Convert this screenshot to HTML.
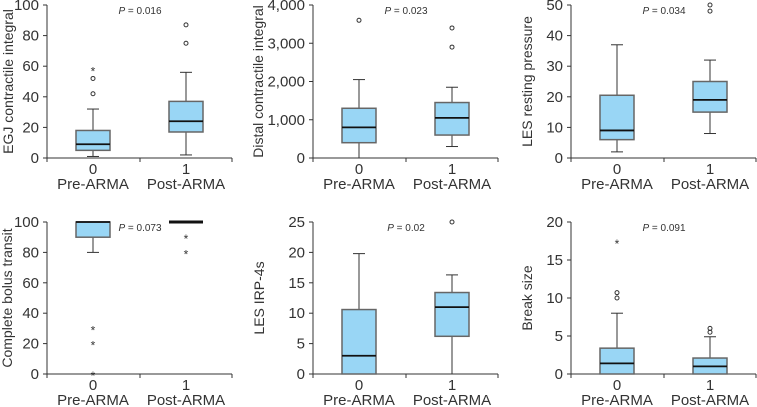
<!DOCTYPE html>
<html><head><meta charset="utf-8"><style>
body{margin:0;background:#fff;}
svg{display:block;font-family:"Liberation Sans",sans-serif;}
</style></head><body>
<svg id="c" width="757" height="407"></svg>
<script>
const panelTitles=["EGJ contractile integral","Distal contractile integral","LES resting pressure","Complete bolus transit","LES IRP-4s","Break size"];
const pValues=["0.016","0.023","0.034","0.073","0.02","0.091"];
const yMax=[100,4000,50,100,25,20];
const yStep=[20,1000,10,20,5,5];
const categories=["Pre-ARMA","Post-ARMA"];
const catCodes=["0","1"];
// [whiskerLow, q1, median, q3, whiskerHigh]
const preStats=[[1,5,9,18,32],[0,400,800,1300,2050],[2,6,9,20.5,37],[80,90,100,100,100],[0,0,3,10.6,19.8],[0,0,1.4,3.4,8]];
const postStats=[[2,17,24,37,56],[300,600,1050,1450,1850],[8,15,19,25,32],[100,100,100,100,100],[0,6.2,11,13.4,16.3],[0,0,1,2.1,4.9]];
const preCircles=[[42,52],[3600],[],[],[],[10,10.7]];
const preStars=[[58],[],[],[30,20,0],[],[17.4]];
const postCircles=[[75,87],[2900,3400],[48,50],[],[25],[5.5,6]];
const postStars=[[],[],[],[90,80],[],[]];

const NS="http://www.w3.org/2000/svg";
const svg=document.getElementById('c');
function mk(tag,attrs,parent){const e=document.createElementNS(NS,tag);for(const k in attrs)e.setAttribute(k,attrs[k]);(parent||svg).appendChild(e);return e;}
const axX=[47,313,571];
const rowTop=[5,222], rowBot=[158,374];
const titleOff=[34,50,39,35,49,39];
for(let p=0;p<6;p++){
  const col=p%3,row=Math.floor(p/3);
  const g=mk('g',{});
  
  
  const ax=axX[col],top=rowTop[row],bot=rowBot[row];
  const y=v=>bot-(v/yMax[p])*(bot-top);
  const cx=[ax+46,ax+139];
  const xEnd=ax+185;
  const yAxis=mk('line',{x1:ax,y1:top,x2:ax,y2:bot,stroke:'#333','stroke-width':1},g);
  
  
  const xAxis=mk('line',{x1:ax,y1:bot,x2:xEnd,y2:bot,stroke:'#333','stroke-width':1},g);
  
  
  [ax,ax+93,xEnd].forEach(xx=>mk('line',{x1:xx,y1:bot,x2:xx,y2:bot+4,stroke:'#333'},g));
  for(let v=0;v<=yMax[p];v+=yStep[p]){
    mk('line',{x1:ax-4,y1:y(v),x2:ax,y2:y(v),stroke:'#333'},g);
    const t=mk('text',{x:ax-8,y:y(v)+5,'text-anchor':'end','font-size':15,fill:'#333'},g);
    t.textContent=v.toLocaleString('en-US');
    
    
  }
  const yt=mk('text',{x:0,y:0,'text-anchor':'middle','font-size':14,fill:'#333',transform:`translate(${ax-titleOff[p]},${(top+bot)/2}) rotate(-90)`},g);
  yt.textContent=panelTitles[p];
  
  
  const pt=mk('text',{x:ax+93,y:top+9,'text-anchor':'middle','font-size':10,fill:'#333'},g);
  pt.innerHTML='<tspan font-style="italic">P</tspan> = '+pValues[p];
  
  
  [preStats[p],postStats[p]].forEach((s,i)=>{
    const c=cx[i];
    const w=mk('line',{x1:c,y1:y(s[0]),x2:c,y2:y(s[4]),stroke:'#333'},g);
    
    
    mk('line',{x1:c-6,y1:y(s[4]),x2:c+6,y2:y(s[4]),stroke:'#333'},g);
    mk('line',{x1:c-6,y1:y(s[0]),x2:c+6,y2:y(s[0]),stroke:'#333'},g);
    const b=mk('rect',{x:c-17,y:y(s[3]),width:34,height:Math.max(0,y(s[1])-y(s[3])),fill:'#99d6f5',stroke:'#666','stroke-width':1.5},g);
    
    
    mk('line',{x1:c-17,y1:y(s[2]),x2:c+17,y2:y(s[2]),stroke:'#111','stroke-width':(s[1]==s[3]?3:1.8)},g);
    const l1=mk('text',{x:c,y:bot+16,'text-anchor':'middle','font-size':15,fill:'#333'},g);
    l1.textContent=catCodes[i];
    
    
    const l2=mk('text',{x:c,y:bot+31,'text-anchor':'middle','font-size':15,fill:'#333'},g);
    l2.textContent=categories[i];
    
    
    (i?postCircles:preCircles)[p].forEach(v=>{
      const o=mk('circle',{cx:c,cy:y(v),r:2,fill:'none',stroke:'#333','stroke-width':1},g);
      
      
    });
    (i?postStars:preStars)[p].forEach(v=>{
      const o=mk('text',{x:c,y:y(v)+6,'text-anchor':'middle','font-size':12,fill:'#333'},g);
      o.textContent='*';
      
      
    });
  });
}
</script>
</body></html>
